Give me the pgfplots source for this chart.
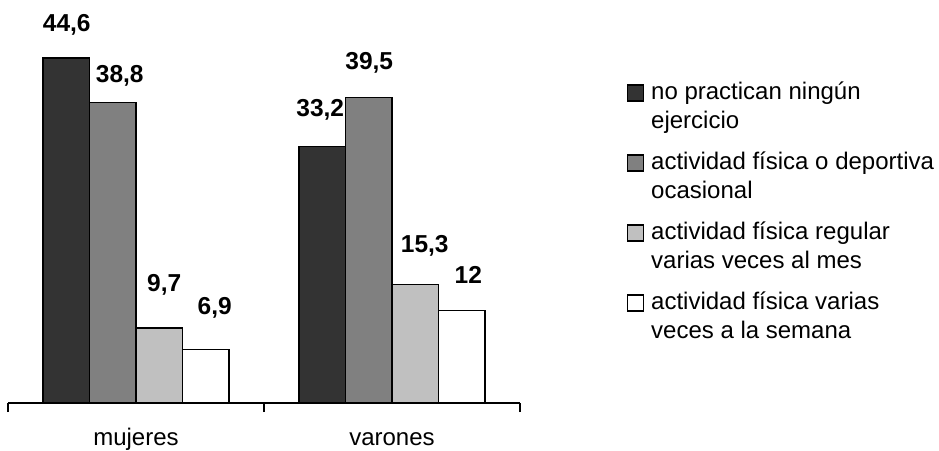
\documentclass[border=0pt]{standalone}
\usepackage{pgfplots}
\usepackage{pgfplotstable}
\usepackage{fontspec}
\setmainfont{Liberation Sans}
\pgfplotsset{compat=1.18}

\definecolor{barDark}{HTML}{333333}
\definecolor{barMid}{HTML}{808080}
\definecolor{barLight}{HTML}{C0C0C0}

% x = group position, y = percentage, dx/dy = offset of the value label
% from the top centre of the bar (label centre, in pt)
\pgfplotstableread{
x   y     dx    dy
0.5 44.6  0.5   34.5
1.5 33.2  -2    37.5
}\ningun
\pgfplotstableread{
x   y     dx    dy
0.5 38.8  7     28.5
1.5 39.5  0.5   36
}\ocasional
\pgfplotstableread{
x   y     dx    dy
0.5 9.7   5     44
1.5 15.3  9.5   40.5
}\regular
\pgfplotstableread{
x   y     dx    dy
0.5 6.9   9     43.5
1.5 12    6.5   34.5
}\semanal

\newcommand\legtext[2]{\parbox[t]{290pt}{\strut#1\\\strut#2}}

\begin{document}
\begin{tikzpicture}
\path[use as bounding box] (0pt,0pt) rectangle (939pt,-450pt);
\begin{axis}[
  at={(8pt,-403pt)}, anchor=south west,
  scale only axis, width=512pt, height=386.75pt,
  xmin=0, xmax=2, ymin=0, ymax=50,
  clip=false,
  axis y line=none,
  axis x line*=bottom,
  axis line style={-, line width=1.2pt, black},
  ybar=0pt, bar width=46.5pt,
  xtick={0,1,2}, xticklabels={},
  xtick align=outside, major tick length=9pt,
  every tick/.style={black, line width=1.2pt},
  extra x ticks={0.5,1.5},
  extra x tick labels={mujeres,varones},
  extra x tick style={major tick length=0pt,
    tick label style={anchor=base, yshift=-42pt, inner sep=0pt,
      font=\fontsize{24}{29}\selectfont}},
  /pgf/number format/use comma,
  /pgf/number format/assume math mode=true,
  visualization depends on={\thisrow{dx}\as\labdx},
  visualization depends on={\thisrow{dy}-8.5\as\labdy},
  nodes near coords={\pgfmathprintnumber{\pgfplotspointmeta}},
  nodes near coords style={font=\bfseries\fontsize{24.5}{29}\selectfont,
    text height=17pt, text depth=0pt, inner sep=0pt,
    xshift=\labdx pt, yshift=\labdy pt},
  legend cell align=left,
  legend style={at={(1.20898,0.85404)}, anchor=north west, draw=none, fill=none,
    inner sep=0pt, outer sep=0pt, row sep=0pt, column sep=7pt,
    font=\fontsize{24}{29}\selectfont,
    nodes={inner xsep=0pt, inner ysep=6pt, text height=20.3pt, text depth=37.7pt}},
  every axis plot post/.append style={
    legend image code/.code={\draw[##1, line width=1.2pt] (0pt,6.7pt) rectangle (16pt,22.7pt);}},
]
\addplot[fill=barDark, draw=black, line width=1.2pt] table[x=x, y=y] {\ningun};
\addplot[fill=barMid, draw=black, line width=1.2pt] table[x=x, y=y] {\ocasional};
\addplot[fill=barLight, draw=black, line width=1.2pt] table[x=x, y=y] {\regular};
\addplot[fill=white, draw=black, line width=1.2pt] table[x=x, y=y] {\semanal};
\addlegendentry{\legtext{no practican ningún}{ejercicio}}
\addlegendentry{\legtext{actividad física o deportiva}{ocasional}}
\addlegendentry{\legtext{actividad física regular}{varias veces al mes}}
\addlegendentry{\legtext{actividad física varias}{veces a la semana}}
\end{axis}
\end{tikzpicture}
\end{document}
